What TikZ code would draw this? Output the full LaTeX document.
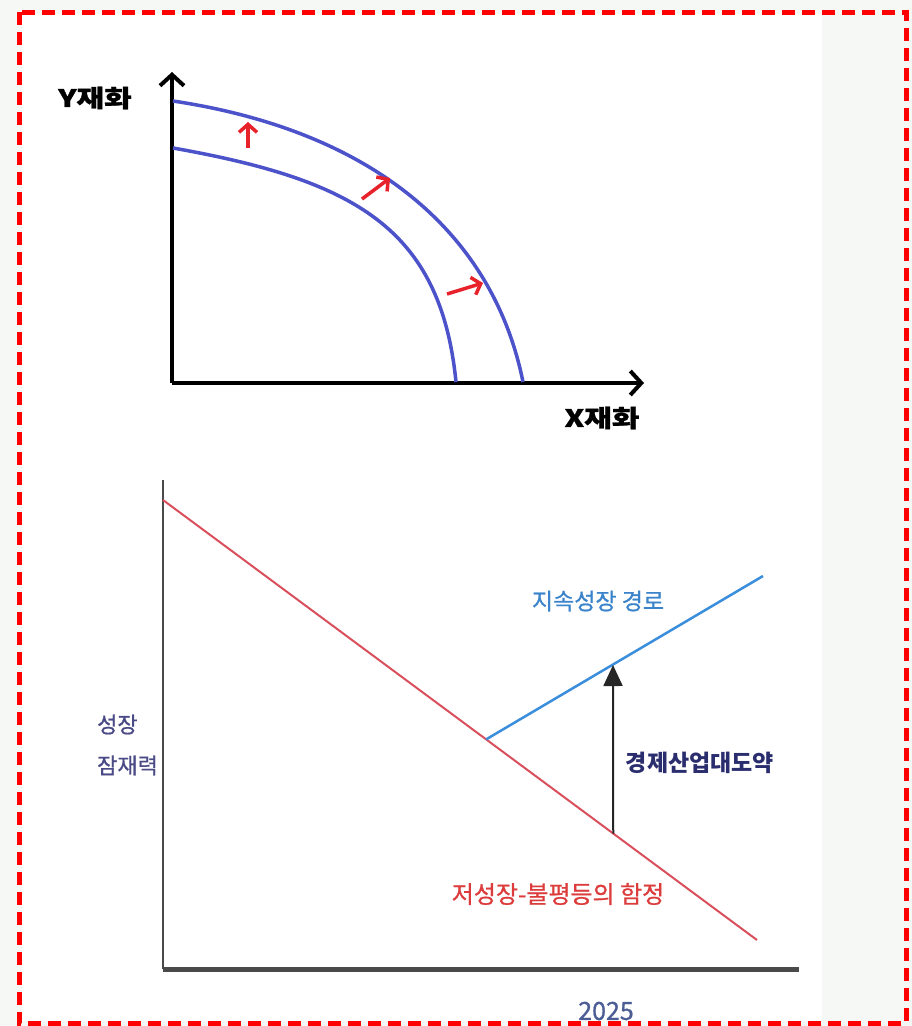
\documentclass[tikz,border=0pt]{standalone}
\usepackage{fontspec}
\setmainfont{Noto Sans CJK KR}
\newfontfamily\krwide{Noto Sans CJK KR}[FakeStretch=1.25,BoldFeatures={FakeBold=1.2}]
\newfontfamily\krmed{Noto Sans CJK KR}[FakeBold=0.8]
\usepackage{tikz}
\usetikzlibrary{arrows.meta,calc,positioning}
\definecolor{framered}{HTML}{FF0000}
\definecolor{ppfblue}{HTML}{4C52C9}
\definecolor{shiftred}{HTML}{E8222A}
\definecolor{traplinered}{HTML}{D9505C}
\definecolor{pathblue}{HTML}{3A8EDB}
\definecolor{pathtext}{HTML}{3B84CC}
\definecolor{leapnavy}{HTML}{2B2E6E}
\definecolor{traptext}{HTML}{DC3C3C}
\definecolor{potnavy}{HTML}{4A4A86}
\definecolor{yeartext}{HTML}{4C5C94}
\definecolor{axisgray}{HTML}{4A4A4A}
\definecolor{bgtint}{HTML}{F5F8F5}

\tikzset{
  axisline/.style={line width=4pt,-{Straight Barb[length=11pt,width=24pt]}},
  ppf/.style={line width=3.5pt,ppfblue},
  shiftarrow/.style={line width=3.5pt,shiftred,-{Straight Barb[length=8pt,width=18pt]}},
  lbl/.style={inner sep=0pt,font=\krmed\fontsize{23}{23}\selectfont},
  biglbl/.style={inner sep=0pt,font=\krwide\bfseries\fontsize{24}{24}\selectfont},
}

\begin{document}
\begin{tikzpicture}[x=1pt,y=-1pt]
		\useasboundingbox (0,0) rectangle (912,1026);
		\fill[bgtint] (0,0) rectangle (912,1026);
		\fill[white] (22,14) rectangle (822,1021);

		% production possibility frontier
		\coordinate (o1) at (172,383);
		\draw[axisline] (o1) -- (172,72);
		\draw[axisline] (o1) -- (644,383);
		\node[biglbl] (ylab) at (95,98) {Y재화};
		\node[biglbl] (xlab) at (602,418) {X재화};

		\draw[ppf] (173,148) .. controls (353,180) and (440.5,227) .. (456,382);
		\draw[ppf] (173,101) .. controls (373,131) and (493,233) .. (523,382);

		\coordinate (s1a) at (248,148); \coordinate (s1b) at (248,122);
		\coordinate (s2a) at (362,199); \coordinate (s2b) at (390,178);
		\coordinate (s3a) at (447,294); \coordinate (s3b) at (483,283);
		\draw[shiftarrow] (s1a) -- (s1b);
		\draw[shiftarrow] (s2a) -- (s2b);
		\draw[shiftarrow] (s3a) -- (s3b);

		% growth potential
		\coordinate (o2) at (163,969);
		\draw[axisgray,line width=2.5pt] (o2) -- (163,480);
		\draw[axisgray,line width=5pt] (o2) -- (799,969);

		\coordinate (r0) at (163,500);
		\coordinate (r1) at (757,940);
		\coordinate (b0) at ($(r0)!0.544!(r1)$);
		\coordinate (b1) at (763,576);
		\draw[traplinered,line width=2pt] (r0) -- (r1);
		\draw[pathblue,line width=2.5pt] (b0) -- (b1);

		\coordinate (a0) at ($(r0)!0.758!(r1)$);
		\coordinate (a1) at (613,665);
		\draw[black!85,line width=2pt,-{Triangle[length=21pt,width=19pt]}] (a0) -- (a1);

		\node[lbl,pathtext] (pathlab) at (598,601) {지속성장 경로};
		\node[lbl,leapnavy,font=\bfseries\fontsize{23}{23}\selectfont] (leaplab) at (700,763) {경제산업대도약};
		\node[lbl,traptext,font=\krmed\fontsize{24}{24}\selectfont] (traplab) at (558,894) {저성장-불평등의 함정};
		\node[lbl,potnavy,align=left,anchor=west,font=\krmed\fontsize{22}{41}\selectfont] (potlab) at (97,745) {성장\\잠재력};
		\node[lbl,yeartext,font=\krmed\fontsize{25}{25}\selectfont] (yearlab) at (606,1011) {2025};

		\draw[framered,line width=5pt,dash pattern=on 13pt off 7pt] (19,12) rectangle (906,1023);
	\end{tikzpicture}
\end{document}
